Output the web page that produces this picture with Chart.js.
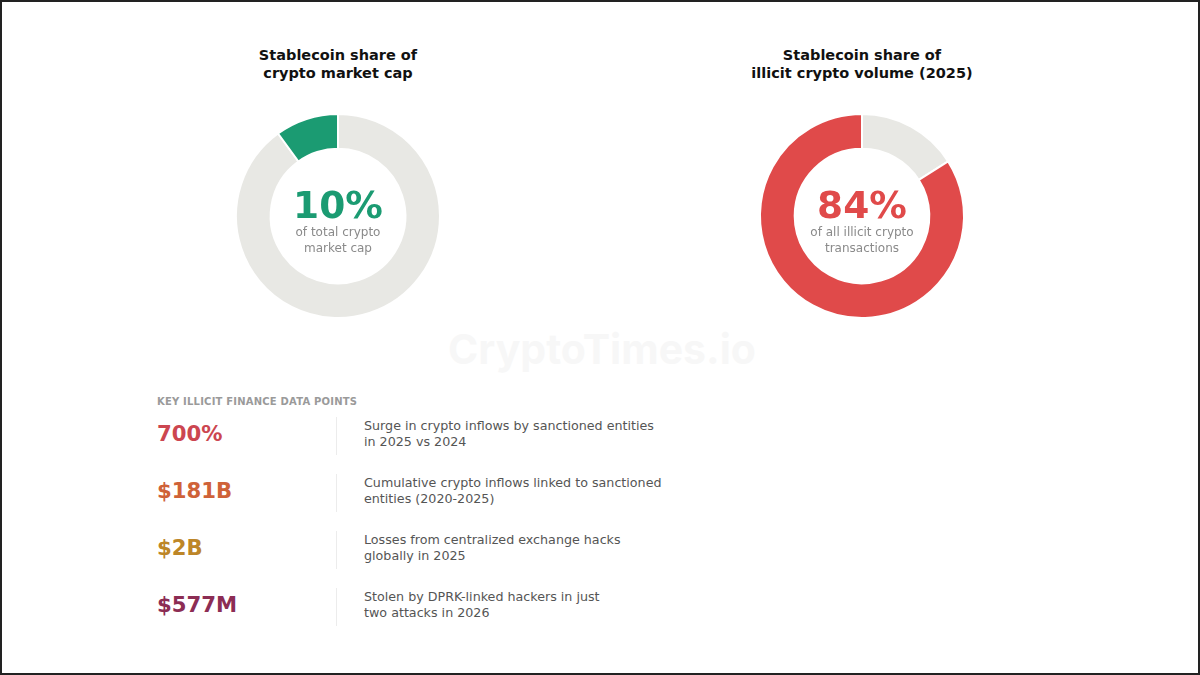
<!DOCTYPE html>
<html>
<head>
<meta charset="utf-8">
<script src="https://cdn.jsdelivr.net/npm/chart.js@4"></script>
<style>
  html,body{margin:0;padding:0;background:#fff;}
  #page{position:relative;width:1196px;height:671px;border:2px solid #222;overflow:hidden;font-family:"DejaVu Sans",sans-serif;background:#fff;}
  .title{position:absolute;width:300px;text-align:center;font-weight:bold;font-size:14.5px;line-height:18px;color:#111;}
  .donut{position:absolute;width:220px;height:220px;}
  .center{position:absolute;width:200px;text-align:center;}
  .big{font-weight:bold;font-size:37.5px;line-height:38px;}
  .sub{font-size:12px;line-height:16px;color:#8a8a8a;}
  .wm{position:absolute;left:446px;top:322px;font-size:41px;font-weight:bold;color:#f7f7f7;font-family:"Inter","DejaVu Sans",sans-serif;}
  .head{position:absolute;left:155px;top:394px;font-size:10px;font-weight:bold;color:#9a9a9a;letter-spacing:0.2px;}
  .val{position:absolute;left:155px;font-size:21.2px;font-weight:bold;}
  .sep{position:absolute;left:334px;width:1px;height:38px;background:#ececec;}
  .desc{position:absolute;left:362px;font-size:12.7px;line-height:16px;color:#555;}
</style>
</head>
<body>
<div id="page">
  <div class="wm">CryptoTimes.io</div>
  <div id="t0" class="title"></div>
  <div id="t1" class="title"></div>
  <div class="donut" id="d0"><canvas id="c0" width="220" height="220"></canvas></div>
  <div class="donut" id="d1"><canvas id="c1" width="220" height="220"></canvas></div>
  <div id="m0" class="center"></div>
  <div id="m1" class="center"></div>
  <div class="head">KEY ILLICIT FINANCE DATA POINTS</div>
  <div id="rows"></div>
</div>
<script>
// ---- data ----
const donutTitles = [["Stablecoin share of","crypto market cap"],["Stablecoin share of","illicit crypto volume (2025)"]];
const shareValues = [10, 84];
const shareLabels = ["10%", "84%"];
const shareSubtitles = [["of total crypto","market cap"],["of all illicit crypto","transactions"]];
const shareColors = ["#1b9b72", "#e04a4a"];
const restColor = "#e8e8e4";

const keyValues = ["700%", "$181B", "$2B", "$577M"];
const keyColors = ["#cc4650", "#cf6238", "#bd8628", "#8c2d54"];
const keyDescriptions = [
  ["Surge in crypto inflows by sanctioned entities","in 2025 vs 2024"],
  ["Cumulative crypto inflows linked to sanctioned","entities (2020-2025)"],
  ["Losses from centralized exchange hacks","globally in 2025"],
  ["Stolen by DPRK-linked hackers in just","two attacks in 2026"]
];

// ---- layout ----
const centersX = [336, 860];
const centerY = 214;
for (let i = 0; i < 2; i++) {
  const t = document.getElementById('t' + i);
  t.innerHTML = donutTitles[i].join('<br>');
  t.style.left = (centersX[i] - 150) + 'px';
  t.style.top = '44px';
  const d = document.getElementById('d' + i);
  d.style.left = (centersX[i] - 110) + 'px';
  d.style.top = (centerY - 110) + 'px';
  const m = document.getElementById('m' + i);
  m.style.left = (centersX[i] - 100) + 'px';
  m.style.top = (centerY - 30) + 'px';
  m.innerHTML = '<div class="big" style="color:' + shareColors[i] + '">' + shareLabels[i] + '</div>' +
    '<div class="sub">' + shareSubtitles[i].join('<br>') + '</div>';

  new Chart(document.getElementById('c' + i), {
    type: 'doughnut',
    data: {
      labels: ['Other', 'Stablecoins'],
      datasets: [{
        data: [100 - shareValues[i], shareValues[i]],
        backgroundColor: [restColor, shareColors[i]],
        borderColor: '#ffffff',
        borderWidth: 2,
        hoverOffset: 0
      }]
    },
    options: {
      responsive: false,
      animation: false,
      cutout: '66%',
      rotation: 0,
      layout: { padding: 7 },
      plugins: { legend: { display: false }, tooltip: { enabled: false } }
    }
  });
}

const rows = document.getElementById('rows');
const rowTops = [419, 476, 533, 590];
keyValues.forEach((v, i) => {
  const y = rowTops[i];
  rows.insertAdjacentHTML('beforeend',
    '<div class="val" style="top:' + (y + 0) + 'px;color:' + keyColors[i] + '">' + v + '</div>' +
    '<div class="sep" style="top:' + (y - 4) + 'px"></div>' +
    '<div class="desc" style="top:' + (y - 3) + 'px">' + keyDescriptions[i].join('<br>') + '</div>');
});
</script>
</body>
</html>
